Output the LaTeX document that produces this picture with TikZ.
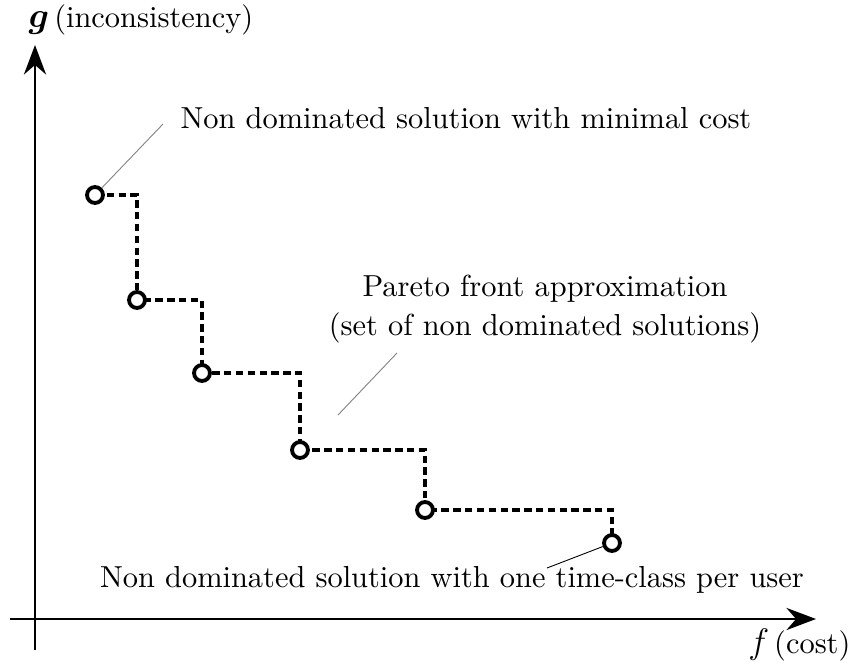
\documentclass[tikz,border=0pt]{standalone}
\usepackage{amsmath,amssymb,bm}
\usetikzlibrary{arrows.meta}

\begin{document}
\begin{tikzpicture}[x=0.0119cm,y=-0.0119cm,
 font=\fontsize{10.3}{12.4}\selectfont,
 axis/.style = {draw, line width=0.8pt, -{Stealth[length=10pt,width=7.5pt]}},
 stair/.style = {draw, line width=1.1pt, dash pattern=on 2.5pt off 1.5pt},
 sol/.style = {circle, draw, fill=white, line width=1.3pt, inner sep=0pt, minimum size=5.4pt},
 pointer/.style = {draw, gray, line width=0.3pt},
 lbl/.style = {inner sep=0pt}]

\useasboundingbox (0,0) rectangle (858,664);

% axes
\coordinate (o1) at (35,650);
\coordinate (o2) at (35,45);
\coordinate (h1) at (10,619);
\coordinate (h2) at (816,619);
\path[axis] (o1) -- (o2);
\path[axis] (h1) -- (h2);

\node(gl) [lbl, anchor=base west] at (28,27) {{\large$\bm{g}$}\,(inconsistency)};
\node(fl) [lbl, anchor=base east] at (851,653) {{\large$f$}\,(cost)};

% corners of the staircase
\coordinate (c1) at (137,195);
\coordinate (c2) at (202,300);
\coordinate (c3) at (300,373);
\coordinate (c4) at (425,450);
\coordinate (c5) at (612,510);

\coordinate (p1) at (95,195);
\coordinate (p2) at (137,300);
\coordinate (p3) at (202,373);
\coordinate (p4) at (300,450);
\coordinate (p5) at (425,510);
\coordinate (p6) at (612,543);

\path[stair] (p1) -- (c1) -- (p2) -- (c2) -- (p3) -- (c3) -- (p4)
             -- (c4) -- (p5) -- (c5) -- (p6);

\node(s1) [sol] at (p1) {};
\node(s2) [sol] at (p2) {};
\node(s3) [sol] at (p3) {};
\node(s4) [sol] at (p4) {};
\node(s5) [sol] at (p5) {};
\node(s6) [sol] at (p6) {};

% labels
\node(mincost) [lbl] at (466,118) {Non dominated solution with minimal cost};
\node(front) [lbl, align=center] at (545,309)
  {Pareto front approximation\\[1pt](set of non dominated solutions)};
\node(peruser) [lbl] at (452,580) {Non dominated solution with one time-class per user};

\coordinate (m1) at (163,124);
\coordinate (f1) at (397,353);
\coordinate (f2) at (338,415);
\coordinate (u1) at (547,568);

\path[pointer] (m1) -- (s1);
\path[pointer] (f1) -- (f2);
\path[pointer, black] (u1) -- (s6);

\end{tikzpicture}
\end{document}
